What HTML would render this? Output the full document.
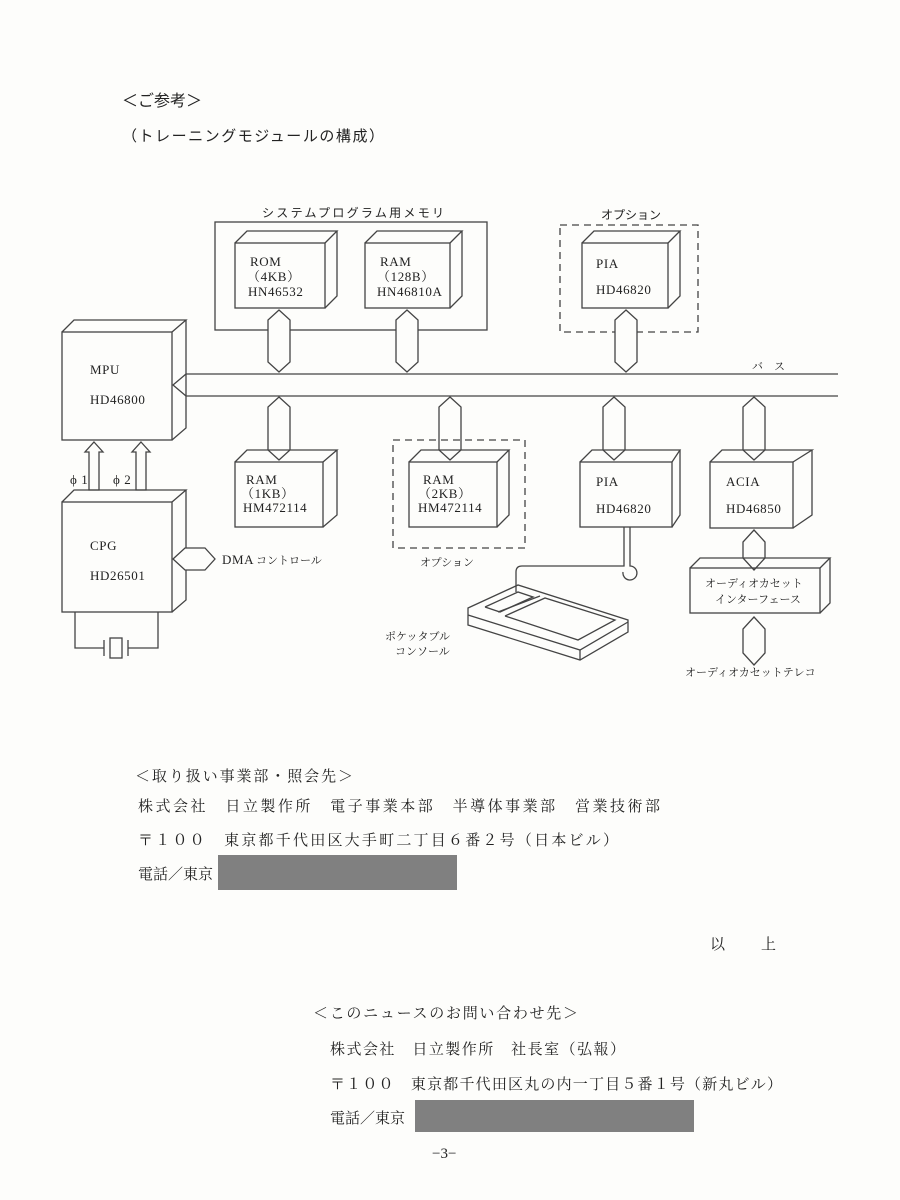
<!DOCTYPE html>
<html><head><meta charset="utf-8"><style>
html,body{margin:0;padding:0;background:#fff;}
svg{display:block;}
text{font-family:"Liberation Serif","Noto Serif CJK SC","Noto Sans CJK JP",serif;fill:#222;}
.j{font-family:"Liberation Sans","Noto Sans CJK JP",sans-serif;}
</style></head><body>
<svg width="900" height="1200" viewBox="0 0 900 1200" xmlns="http://www.w3.org/2000/svg">
<rect width="900" height="1200" fill="#fdfdfb"/>
<g stroke="#444" stroke-width="1.3" fill="none">
<rect x="215" y="222" width="272" height="108"/>
<rect x="235" y="243" width="90" height="65"/><polyline points="235,243 247,231 337,231 325,243"/><polyline points="337,231 337,296 325,308"/>
<rect x="365" y="243" width="85" height="65"/><polyline points="365,243 377,231 462,231 450,243"/><polyline points="462,231 462,296 450,308"/>
<rect x="560" y="225" width="138" height="107" stroke-dasharray="7,5"/>
<rect x="582" y="243" width="86" height="65"/><polyline points="582,243 594,231 680,231 668,243"/><polyline points="680,231 680,296 668,308"/>
<rect x="62" y="332" width="110" height="108"/><polyline points="62,332 74,320 186,320 172,332"/><polyline points="186,320 186,428 172,440"/>
<polyline points="186,374 838,374"/><polyline points="186,396 838,396"/><polyline points="186,374 173,385 186,396"/>
<polygon points="279,310 290,320 290,362 279,372 268,362 268,320" fill="#fdfdfb"/>
<polygon points="407,310 418,320 418,362 407,372 396,362 396,320" fill="#fdfdfb"/>
<polygon points="626,310 637,320 637,362 626,372 615,362 615,320" fill="#fdfdfb"/>
<polygon points="279,397 290,407 290,450 279,460 268,450 268,407" fill="#fdfdfb"/>
<polygon points="450,397 461,407 461,450 450,460 439,450 439,407" fill="#fdfdfb"/>
<polygon points="614,397 625,407 625,450 614,460 603,450 603,407" fill="#fdfdfb"/>
<polygon points="754,397 765,407 765,450 754,460 743,450 743,407" fill="#fdfdfb"/>
<rect x="235" y="462" width="88" height="65"/><polyline points="235,462 247,450 337,450 323,462"/><polyline points="337,450 337,515 323,527"/>
<rect x="393" y="440" width="132" height="108" stroke-dasharray="7,5"/>
<rect x="409" y="462" width="88" height="65"/><polyline points="409,462 421,450 509,450 497,462"/><polyline points="509,450 509,515 497,527"/>
<rect x="580" y="462" width="92" height="65"/><polyline points="580,462 592,450 680,450 672,462"/><polyline points="680,450 680,515 672,527"/>
<rect x="710" y="462" width="83" height="66"/><polyline points="710,462 722,450 812,450 793,462"/><polyline points="812,450 812,515 793,528"/>
<polygon points="754,530 765,542 765,558 754,570 743,558 743,542" fill="#fdfdfb"/>
<rect x="690" y="568" width="130" height="45"/><polyline points="690,568 700,558 830,558 820,568"/><polyline points="830,558 830,603 820,613"/>
<polygon points="754,617 765,629 765,653 754,665 743,653 743,629" fill="#fdfdfb"/>
<polygon points="94,442 103,452 99,452 99,490 89,490 89,452 85,452"/>
<polygon points="141,442 150,452 146,452 146,490 136,490 136,452 132,452"/>
<rect x="62" y="502" width="110" height="110"/><polyline points="62,502 74,490 186,490 172,502"/><polyline points="186,490 186,600 172,612"/>
<polygon points="173,559 185,548 205,548 215,559 205,570 185,570" fill="#fdfdfb"/>
<polyline points="75,612 75,648 104,648"/><polyline points="158,612 158,648 128,648"/>
<line x1="104" y1="640" x2="104" y2="656"/><line x1="128" y1="640" x2="128" y2="656"/>
<rect x="110" y="638" width="12" height="20"/>
<path d="M624,527 V566 H522 q-6,0 -6,6 V592"/>
<path d="M630,527 V566 a7,7 0 1 1 -7,6"/>
<polygon points="468,608 518,585 628,620 628,632 580,660 468,625"/>
<polyline points="468,615 580,650 628,622"/><line x1="580" y1="650" x2="580" y2="660"/>
<polyline points="485,607 518,592 533,597 500,612 485,607"/>
<polyline points="505,616 545,598 615,620 578,640 505,616"/>
<line x1="498" y1="612" x2="540" y2="596"/>
</g>
<text x="122" y="106" font-size="16" class="j">＜ご参考＞</text>
<text x="122" y="141" font-size="15" class="j" textLength="262">（トレーニングモジュールの構成）</text>
<text x="262" y="217" font-size="12" class="j" textLength="182">システムプログラム用メモリ</text>
<text x="601" y="219" font-size="12" class="j">オプション</text>
<g font-size="13" letter-spacing="0.6">
<text x="250" y="266">ROM</text><text x="247" y="281">（4KB）</text><text x="248" y="296">HN46532</text>
<text x="380" y="266">RAM</text><text x="377" y="281">（128B）</text><text x="377" y="296">HN46810A</text>
<text x="596" y="268">PIA</text><text x="596" y="294">HD46820</text>
<text x="90" y="374">MPU</text><text x="90" y="404">HD46800</text>
<text x="246" y="484">RAM</text><text x="241" y="498">（1KB）</text><text x="243" y="512">HM472114</text>
<text x="423" y="484">RAM</text><text x="418" y="498">（2KB）</text><text x="418" y="512">HM472114</text>
<text x="596" y="486">PIA</text><text x="596" y="513">HD46820</text>
<text x="726" y="486">ACIA</text><text x="726" y="513">HD46850</text>
<text x="90" y="550">CPG</text><text x="90" y="580">HD26501</text>
<text x="70" y="484">ϕ 1</text><text x="113" y="484">ϕ 2</text>
<text x="222" y="564">DMA</text>
</g>
<g font-size="11" class="j">
<text x="752" y="370">バ　ス</text>
<text x="256" y="564">コントロール</text>
<text x="420" y="566">オプション</text>
<text x="705" y="587">オーディオカセット</text>
<text x="715" y="603">インターフェース</text>
<text x="685" y="676">オーディオカセットテレコ</text>
<text x="385" y="640">ポケッタブル</text>
<text x="395" y="655">コンソール</text>
</g>
<g font-size="15" class="j">
<text x="135" y="781" textLength="218">＜取り扱い事業部・照会先＞</text>
<text x="138" y="811" textLength="522">株式会社　日立製作所　電子事業本部　半導体事業部　営業技術部</text>
<text x="138" y="845" textLength="480">〒１００　東京都千代田区大手町二丁目６番２号（日本ビル）</text>
<text x="138" y="879">電話／東京</text>
<text x="710" y="949" textLength="66">以　　上</text>
<text x="313" y="1018" textLength="265">＜このニュースのお問い合わせ先＞</text>
<text x="330" y="1054" textLength="295">株式会社　日立製作所　社長室（弘報）</text>
<text x="330" y="1089" textLength="452">〒１００　東京都千代田区丸の内一丁目５番１号（新丸ビル）</text>
<text x="330" y="1123">電話／東京</text>
<text x="432" y="1158">−3−</text>
</g>
<rect x="218" y="855" width="239" height="35" fill="#808080"/>
<rect x="415" y="1100" width="279" height="32" fill="#808080"/>
</svg>
</body></html>
